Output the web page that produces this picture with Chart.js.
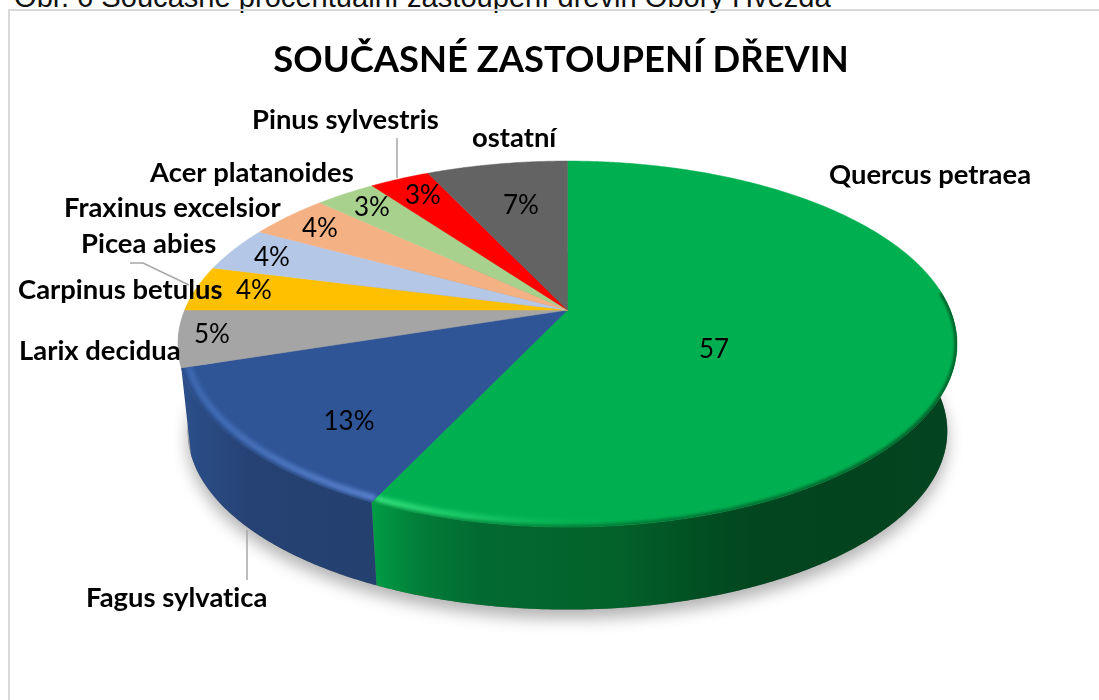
<!DOCTYPE html>
<html><head><meta charset="utf-8">
<script src="https://cdn.jsdelivr.net/npm/chart.js@4"></script>
<style>
html,body{margin:0;padding:0;background:#fff;overflow:hidden;width:1099px;height:700px}
#cap{position:absolute;left:14px;top:-19px;font:29.1px "Liberation Sans",Arial,sans-serif;color:#111;white-space:nowrap}
#frame{position:absolute;left:8px;top:9px;width:1200px;height:800px;border:2px solid #d9d9d9;box-sizing:border-box}
canvas{position:absolute;left:0;top:0}
</style></head><body>
<div id="cap">Obr. 6 Současné procentuální zastoupení dřevin Obory Hvězda</div>
<div id="frame"></div>
<canvas id="c" width="1099" height="700"></canvas>
<script>
const titleText = 'SOUČASNÉ ZASTOUPENÍ DŘEVIN';
const species = ['Quercus petraea','Fagus sylvatica','Larix decidua','Carpinus betulus','Picea abies','Fraxinus excelsior','Acer platanoides','Pinus sylvestris','ostatní'];
const shares = [57,13,5,4,4,4,3,3,7];
const valueTexts = ['57','13%','5%','4%','4%','4%','3%','3%','7%'];
const colors = ['#00b050','#2f5597','#a5a5a5','#ffc000','#b4c7e7','#f4b183','#a9d18e','#ff0000','#636363'];

// Layout only (not data)
const namePos = [[829,175],[86,598],[19,351],[18,290],[81,244],[64,208],[150,173],[252,120],[472,138]];
const valuePos = [[714,350],[349,422],[212,335],[254,291],[272,258],[320,229],[372,208],[423,196],[521,206]];
const leaders = [[[397,138],[397,178]],[[130,263],[143,263],[189,285]],[[247,530],[247,580]]];
const SHIFT_X = 6.5, SX = 1.664, SY = 0.768, K = -0.186, BOTTOM_SCALE = 0.975, DEPTH = 88;

const sideStops = {
 0:[[373,'#009c45'],[420,'#027d38'],[480,'#026a31'],[620,'#036129'],[700,'#014f23'],[760,'#02451f'],[957,'#04431f']],
 1:[[180,'#2b4f8b'],[250,'#264274'],[372,'#24406f']],
 2:[[175,'#969696'],[200,'#8a8a8a']]
};

const pie3d = {
  id:'pie3d',
  beforeDatasetsDraw(chart){
    const ctx = chart.ctx, arcs = chart.getDatasetMeta(0).data;
    const a0 = arcs[0], cx = a0.x + SHIFT_X, cy = a0.y, R = a0.outerRadius;
    const top = (t,s=1)=>{const u=Math.cos(t),v=Math.sin(t),d=1+K*v;
      return [cx+s*R*SX*u/d, cy+s*R*SY*v/d];};
    const bot = t=>{const p=top(t,BOTTOM_SCALE);return [p[0],p[1]+DEPTH];};
    const trace = (f,from,to,first)=>{const n=Math.max(8,Math.ceil(Math.abs(to-from)*120));
      for(let i=0;i<=n;i++){const p=f(from+(to-from)*i/n);
        if(i===0&&first)ctx.moveTo(p[0],p[1]);else ctx.lineTo(p[0],p[1]);}};
    // soft shadow below the solid
    ctx.save();
    ctx.shadowColor='rgba(0,0,0,0.3)';ctx.shadowBlur=16;ctx.shadowOffsetY=9;
    ctx.fillStyle='#777';
    ctx.beginPath();trace(bot,0,Math.PI*2,true);ctx.closePath();ctx.fill();
    ctx.restore();
    // grey wall sits behind the blue one
    const a2=arcs[2];
    ctx.fillStyle='#a2a2a2';
    ctx.beginPath();trace(p=>top(p),a2.startAngle-0.02,Math.PI+0.12,true);trace(bot,Math.PI+0.12,a2.startAngle-0.02,false);ctx.closePath();ctx.fill();
    // walls, front-facing part only
    const vis0=-0.12, vis1=Math.PI+0.12;
    arcs.forEach((a,i)=>{
      if(i===2) return;
      let s=a.startAngle,e=a.endAngle;
      const lo=Math.max(s,vis0), hi=Math.min(e,vis1);
      if(hi<=lo) return;
      const st=sideStops[i]; if(!st) return;
      const xs=st[0][0], xe=st[st.length-1][0];
      const g=ctx.createLinearGradient(xs,0,xe,0);
      st.forEach(p=>g.addColorStop((p[0]-xs)/(xe-xs),p[1]));
      ctx.fillStyle=g;
      ctx.beginPath();trace(p=>top(p),lo,hi,true);trace(bot,hi,lo,false);ctx.closePath();ctx.fill();
    });
    // top faces
    arcs.forEach((a,i)=>{
      ctx.fillStyle=colors[i];ctx.strokeStyle=colors[i];ctx.lineWidth=0.5;
      ctx.beginPath();ctx.moveTo(cx,cy);trace(p=>top(p),a.startAngle,a.endAngle,false);ctx.closePath();ctx.fill();ctx.stroke();
    });
    // bevel
    const bevel=(i,scale,width,stops,blur)=>{
      const a=arcs[i];
      ctx.save();
      ctx.beginPath();ctx.moveTo(cx,cy);trace(p=>top(p),a.startAngle,a.endAngle,false);ctx.closePath();ctx.clip();
      const xs=stops[0][0],xe=stops[stops.length-1][0];
      const g=ctx.createLinearGradient(xs,0,xe,0);
      stops.forEach(p=>g.addColorStop((p[0]-xs)/(xe-xs),p[1]));
      ctx.strokeStyle=g;ctx.lineWidth=width;ctx.filter='blur('+blur+'px)';
      ctx.beginPath();trace(p=>top(p,scale),Math.max(a.startAngle,-0.1),Math.min(a.endAngle,Math.PI+.1),true);ctx.stroke();
      ctx.restore();
    };
    bevel(0,1.0,5,[[373,'rgba(0,120,50,0.7)'],[600,'rgba(0,110,50,0.8)'],[957,'rgba(0,70,30,0.8)']],1.5);
    bevel(0,0.98,6,[[373,'rgba(70,240,140,0.8)'],[470,'rgba(50,225,125,0.55)'],[570,'rgba(40,210,110,0.12)'],[640,'rgba(0,176,80,0)'],[957,'rgba(0,176,80,0)']],2);
    bevel(1,1.0,5,[[180,'rgba(30,60,110,0.4)'],[372,'rgba(30,60,110,0.6)']],1.5);
    bevel(1,0.98,6,[[180,'rgba(70,115,190,0.65)'],[372,'rgba(105,145,225,0.8)']],2);
    // leader lines
    ctx.strokeStyle='#a6a6a6';ctx.lineWidth=1.5;
    leaders.forEach(l=>{ctx.beginPath();l.forEach((p,i)=>i?ctx.lineTo(p[0],p[1]):ctx.moveTo(p[0],p[1]));ctx.stroke();});
    // texts
    ctx.save();
    ctx.letterSpacing='0.01px';
    ctx.fillStyle='#000';ctx.textBaseline='middle';
    ctx.textAlign='left';ctx.font='bold 27.4px Lato';
    species.forEach((n,i)=>ctx.fillText(n,namePos[i][0],namePos[i][1]));
    ctx.textAlign='center';ctx.font='26px Lato';
    valueTexts.forEach((n,i)=>ctx.fillText(n,valuePos[i][0],valuePos[i][1]));
    ctx.restore();
    return false;
  }
};

new Chart(document.getElementById('c'),{
  type:'pie',
  data:{labels:species,datasets:[{data:shares,backgroundColor:colors,borderWidth:0}]},
  plugins:[pie3d],
  options:{
    responsive:false,animation:false,
    layout:{padding:{left:100,right:77,top:0,bottom:160}},
    plugins:{
      legend:{display:false},tooltip:{enabled:false},
      title:{display:true,text:titleText,color:'#000',font:{family:'Lato',size:36.4,weight:'bold'},padding:{top:38,bottom:-1.7}}
    }
  }
});
</script>
</body></html>
